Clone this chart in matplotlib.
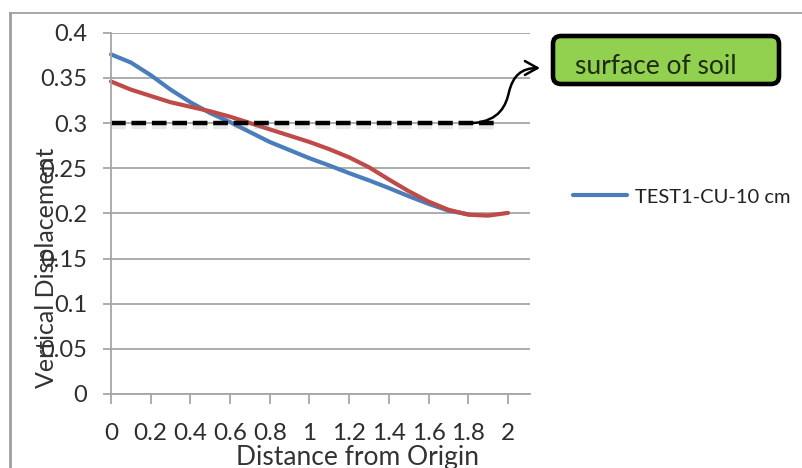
import numpy as np
import matplotlib
matplotlib.use("Agg")
import matplotlib.pyplot as plt
import matplotlib.patheffects as pe
from matplotlib.patches import FancyBboxPatch, FancyArrowPatch
from matplotlib.path import Path
from matplotlib.lines import Line2D
from matplotlib.transforms import IdentityTransform

plt.rcParams['font.family'] = ['Lato', 'DejaVu Sans']

# data
x_blue = [0.0, 0.1, 0.2, 0.3, 0.4, 0.5, 0.6, 0.7, 0.8, 0.9, 1.0,
          1.1, 1.2, 1.3, 1.4, 1.5, 1.6, 1.7, 1.8]
y_blue = [0.376, 0.367, 0.353, 0.337, 0.323, 0.311, 0.301, 0.290, 0.279, 0.270, 0.261,
          0.253, 0.2445, 0.2365, 0.228, 0.219, 0.2105, 0.203, 0.199]
x_red = [0.0, 0.1, 0.2, 0.3, 0.4, 0.5, 0.6, 0.7, 0.8, 0.9, 1.0,
         1.1, 1.2, 1.3, 1.4, 1.5, 1.6, 1.7, 1.8, 1.9, 2.0]
y_red = [0.346, 0.337, 0.330, 0.323, 0.318, 0.313, 0.307, 0.300, 0.293, 0.286, 0.279,
         0.271, 0.262, 0.251, 0.2375, 0.2245, 0.213, 0.204, 0.1985, 0.1975, 0.2005]
x_surface = [0.0, 1.95]
y_surface = [0.3, 0.3]
series_label = "TEST1-CU-10 cm"
x_ticks = [0, 0.2, 0.4, 0.6, 0.8, 1, 1.2, 1.4, 1.6, 1.8, 2]
x_ticklabels = ["0", "0.2", "0.4", "0.6", "0.8", "1", "1.2", "1.4", "1.6", "1.8", "2"]
y_ticks = [0, 0.05, 0.1, 0.15, 0.2, 0.25, 0.3, 0.35, 0.4]
y_ticklabels = ["0", "0.05", "0.1", "0.15", "0.2", "0.25", "0.3", "0.35", "0.4"]

W, H = 802, 468
fig = plt.figure(figsize=(W / 100, H / 100), dpi=100)
fig.patch.set_facecolor("white")

# axes box in pixels: x 111..530, y 32.7..394
ax = fig.add_axes([111 / W, 1 - 394 / H, (530 - 111) / W, (394 - 32.7) / H])
ax.set_xlim(0, 2.111)
ax.set_ylim(0, 0.4)

grid_col = "#a6a6a6"
ax.set_yticks(y_ticks)
ax.set_yticklabels(y_ticklabels)
ax.set_xticks(x_ticks)
ax.set_xticklabels(x_ticklabels)
ax.grid(axis="y", color=grid_col, lw=1.3)
ax.set_axisbelow(True)
for s in ["top", "right"]:
    ax.spines[s].set_visible(False)
for s in ["left", "bottom"]:
    ax.spines[s].set_color(grid_col)
    ax.spines[s].set_linewidth(1.3)
ax.tick_params(axis="y", length=6, width=1.3, color=grid_col, pad=11,
               labelsize=17, labelcolor="#2e2e2e")
ax.tick_params(axis="x", length=7, width=1.3, color=grid_col, pad=14,
               labelsize=17.5, labelcolor="#2e2e2e")

blue_line, = ax.plot(x_blue, y_blue, color="#4A7EBB", lw=3, label=series_label,
                     solid_capstyle="round", solid_joinstyle="round", clip_on=False)
ax.plot(x_red, y_red, color="#BE4B48", lw=3, solid_capstyle="round",
        solid_joinstyle="round", clip_on=False)
ax.plot(x_surface, y_surface, color="black", lw=3.2, dashes=(3.3, 1.3),
        path_effects=[pe.SimpleLineShadow(offset=(0, -3), shadow_color="gray", alpha=0.18),
                      pe.Normal()])

ax.legend(handles=[blue_line], loc="center left", frameon=False,
          bbox_to_anchor=(573 / W, 1 - 197 / H), bbox_transform=fig.transFigure,
          fontsize=14.5, handlelength=2.7, handletextpad=0.4, borderpad=0,
          borderaxespad=0, labelcolor="#222222")

# axis titles
fig.text(47 / W, 1 - 268 / H, "Vertical Displacement", rotation=90, fontsize=18,
         ha="center", va="center", color="#333333")
fig.text(357 / W, 1 - 458 / H, "Distance from Origin", fontsize=19,
         ha="center", va="center", color="#333333")

# outer chart border (left and top only visible)
fig.add_artist(Line2D([10 / W, 10 / W], [0, 1 - 12.5 / H], transform=fig.transFigure,
                      color="#a0a0a0", lw=2))
fig.add_artist(Line2D([10 / W, 1], [1 - 12.5 / H, 1 - 12.5 / H], transform=fig.transFigure,
                      color="#a0a0a0", lw=1.3))

# callout box
box = FancyBboxPatch((553, H - 84), 226, 48, boxstyle="round,pad=0,rounding_size=8",
                     transform=IdentityTransform(), facecolor="#92D050",
                     edgecolor="black", lw=3.3)
fig.add_artist(box)
fig.text(575 / W, 1 - 66 / H, "surface of soil", fontsize=19, ha="left", va="center",
         color="#1e2d12")

# curved arrow from the dashed line to the box
verts = [(473, H - 123), (500, H - 121), (506, H - 105), (509, H - 92),
         (513, H - 76), (521, H - 68), (540, H - 68)]
codes = [Path.MOVETO, Path.CURVE4, Path.CURVE4, Path.CURVE4,
         Path.CURVE4, Path.CURVE4, Path.CURVE4]
arrow = FancyArrowPatch(path=Path(verts, codes), arrowstyle="->,head_length=9,head_width=5",
                        transform=IdentityTransform(), color="black", lw=1.8)
fig.add_artist(arrow)

fig.savefig("out.png", dpi=100)
